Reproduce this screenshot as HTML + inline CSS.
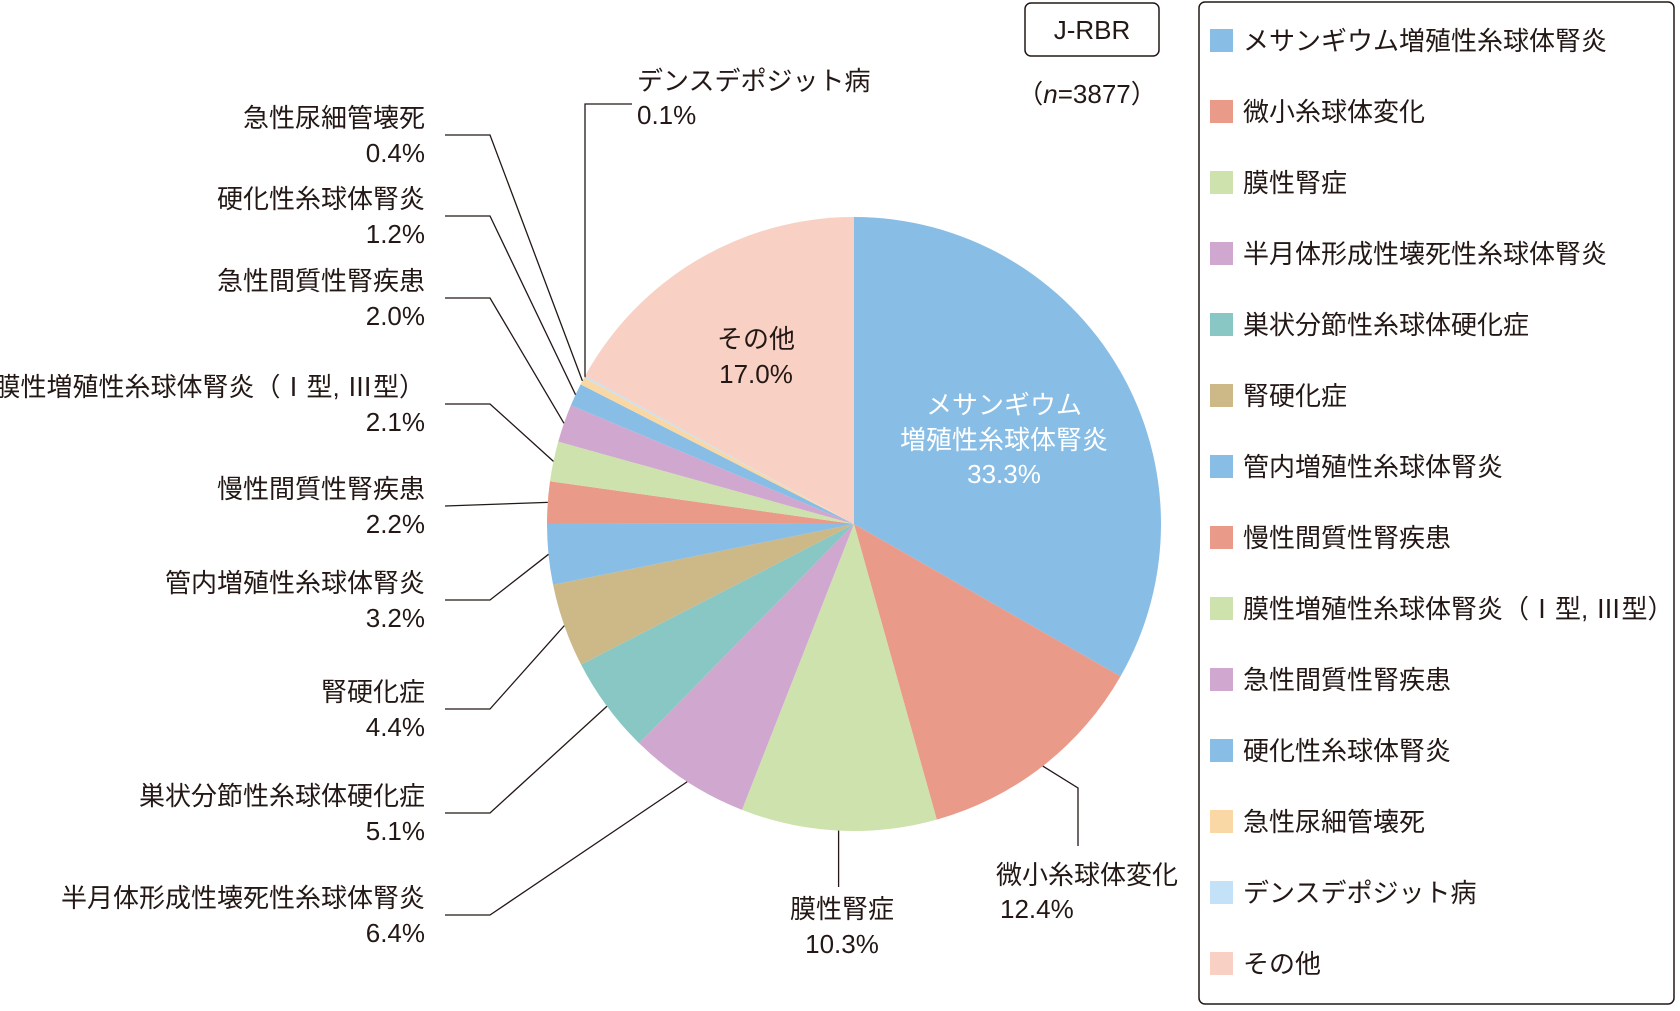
<!DOCTYPE html>
<html><head><meta charset="utf-8"><style>
html,body{margin:0;padding:0;background:#fff;}
svg text{font-family:"Liberation Sans","Noto Sans CJK JP",sans-serif;fill:#231815;}
</style></head><body>
<svg id="c" width="1680" height="1006" viewBox="0 0 1680 1006" xmlns="http://www.w3.org/2000/svg">
<rect x="1025" y="3" width="134" height="53" rx="6" fill="#fff" stroke="#231815" stroke-width="1.5"/>
<text x="1092" y="39" font-size="26" text-anchor="middle">J-RBR</text>
<text x="1087" y="103" font-size="26" text-anchor="middle">（<tspan font-style="italic">n</tspan>=3877）</text>
<rect x="1199" y="2" width="475" height="1002" rx="6" fill="#fff" stroke="#231815" stroke-width="1.5"/>
<g id="pie"></g><g id="leg"></g><g id="lab"></g>
</svg>
<script>
const categories=["メサンギウム増殖性糸球体腎炎","微小糸球体変化","膜性腎症","半月体形成性壊死性糸球体腎炎","巣状分節性糸球体硬化症","腎硬化症","管内増殖性糸球体腎炎","慢性間質性腎疾患","膜性増殖性糸球体腎炎（Ⅰ型, Ⅲ型）","急性間質性腎疾患","硬化性糸球体腎炎","急性尿細管壊死","デンスデポジット病","その他"];
const values=[33.3,12.4,10.3,6.4,5.1,4.4,3.2,2.2,2.1,2.0,1.2,0.4,0.1,17.0];
const valueLabels=["33.3%","12.4%","10.3%","6.4%","5.1%","4.4%","3.2%","2.2%","2.1%","2.0%","1.2%","0.4%","0.1%","17.0%"];
const colors=["#88bde6","#ea9a88","#cee2ad","#d0a8cf","#88c7c3","#cdb888","#88bde6","#ea9a88","#cee2ad","#d0a8cf","#88bde6","#fad8a6","#c4e2f7","#f8d0c4"];
const NS="http://www.w3.org/2000/svg";
const cx=854,cy=524,R=307;
const total=values.reduce((a,b)=>a+b,0);
function mk(t,a,p){const e=document.createElementNS(NS,t);for(const k in a)e.setAttribute(k,a[k]);p.appendChild(e);return e;}
function pt(ang,r){return [cx+r*Math.sin(ang),cy-r*Math.cos(ang)];}
const pie=document.getElementById('pie'),leg=document.getElementById('leg'),lab=document.getElementById('lab');
let acc=0;const mids=[];
values.forEach((v,i)=>{
  const a0=acc/total*2*Math.PI;acc+=v;const a1=acc/total*2*Math.PI;mids.push((a0+a1)/2);
  const p0=pt(a0,R),p1=pt(a1,R);
  const s=mk('path',{d:`M${cx},${cy}L${p0[0]},${p0[1]}A${R},${R} 0 ${a1-a0>Math.PI?1:0} 1 ${p1[0]},${p1[1]}Z`,fill:colors[i]},pie);
  
  
  const sw=mk('rect',{x:1210,y:29+71*i,width:23,height:23,fill:colors[i]},leg);
  
  
  const t=mk('text',{x:1243,y:50+71*i,'font-size':26},leg);t.textContent=categories[i];
  
  
});
// inside labels
function txt(x,y,s,anchor,fill,name){const t=mk('text',{x:x,y:y,'font-size':26,'text-anchor':anchor},lab);if(fill)t.setAttribute('style','fill:'+fill);t.textContent=s;
  
  return t;}
txt(1004,414,"メサンギウム","middle","#fff","label-mesangial-1");
txt(1004,449,"増殖性糸球体腎炎","middle","#fff","label-mesangial-2");
txt(1004,483,valueLabels[0],"middle","#fff","label-mesangial-value");
txt(756,348,categories[13],"middle",null,"label-other");
txt(756,383,valueLabels[13],"middle",null,"label-other-value");
// left labels: index, line y
const leftIdx=[11,10,9,8,7,6,5,4,3];
const leftY=[135,216,298,404,506,600,709,813,915];
const line=(d,name)=>{const p=mk('path',{d:d,fill:'none',stroke:'#231815','stroke-width':1.3},lab);};
leftIdx.forEach((i,k)=>{
  const y=leftY[k];
  const e=pt(mids[i],R);
  const name=i===8?"膜性増殖性糸球体腎炎（Ⅰ型, Ⅲ型）":categories[i];
  txt(425,y-8,name,"end",null,'label-name-'+i);
  txt(425,y+27,valueLabels[i],"end",null,'label-value-'+i);
  if(i===7) line(`M445,${y}L${e[0]},${e[1]}`,'leader-'+i);
  else line(`M445,${y}L490,${y}L${e[0]},${e[1]}`,'leader-'+i);
});
// dense deposit
{const e=pt(mids[12],R);line(`M632,104L585,104L585,${e[1]}L${e[0]},${e[1]}`,'leader-12');
 txt(637,90,categories[12],"start",null,'label-name-12');txt(637,124,valueLabels[12],"start",null,'label-value-12');}
// membranous
{const e=pt(mids[2],R);line(`M${e[0]},${e[1]}L${e[0]},887`,'leader-2');
 txt(842,918,categories[2],"middle",null,'label-name-2');txt(842,953,valueLabels[2],"middle",null,'label-value-2');}
// minimal change
{const e=pt(mids[1],R);line(`M${e[0]},${e[1]}L1078,788L1078,846`,'leader-1');
 txt(996,884,categories[1],"start",null,'label-name-1');txt(1000,918,valueLabels[1],"start",null,'label-value-1');}
</script>
</body></html>
